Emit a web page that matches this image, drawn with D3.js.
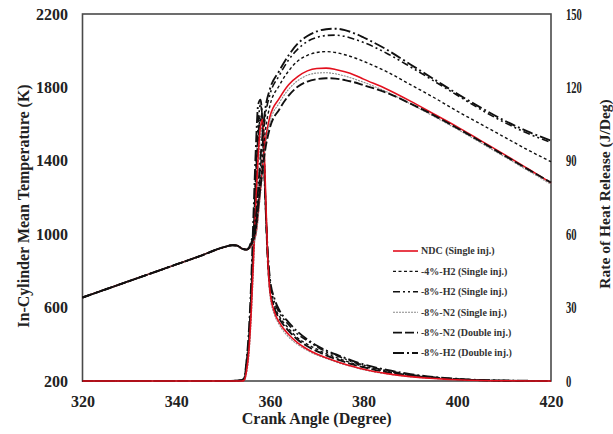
<!DOCTYPE html>
<html>
<head>
<meta charset="utf-8">
<script src="https://cdn.jsdelivr.net/npm/d3@7"></script>
<style>
  html, body { margin: 0; padding: 0; background: #fff; }
  svg { display: block; }
  text { font-family: "Liberation Serif", "Times New Roman", serif; font-weight: bold; }
</style>
</head>
<body>
<svg id="chart" width="613" height="434"></svg>
<script>
// ---------- data ----------
const xTicks = [320, 340, 360, 380, 400, 420];
const tempTicks = [200, 600, 1000, 1400, 1800, 2200];
const hrrTicks = [0, 30, 60, 90, 120, 150];

const seriesNames = [
  "NDC (Single inj.)",
  "-4%-H2 (Single inj.)",
  "-8%-H2 (Single inj.)",
  "-8%-N2 (Single inj.)",
  "-8%-N2 (Double inj.)",
  "-8%-H2 (Double inj.)"
];

// temperature (K) vs crank angle
const tempAngles = [320,325,330,335,340,345,350,352,353,354,355,
  356,357,358,359,360,362,364,366,368,370,372,374,376,378,380,385,390,395,400,405,410,415,420];
const tempCompression = [655,700,745,790,835,880,928,940,938,922,916];
const tempNDC    = [935,1000,1250,1500,1640,1740,1815,1860,1890,1903,1905,1898,1885,1868,1845,1790,1725,1655,1585,1510,1435,1358,1280];
const tempH2_4S  = [940,1020,1300,1560,1700,1810,1890,1945,1975,1990,1995,1990,1978,1962,1942,1885,1815,1745,1670,1600,1530,1460,1395];
const tempH2_8S  = [945,1040,1360,1640,1760,1865,1950,2010,2050,2072,2083,2085,2078,2063,2045,1985,1912,1835,1757,1680,1610,1550,1500];
const tempN2_8S  = [930,990,1220,1470,1610,1715,1790,1838,1866,1878,1880,1874,1862,1846,1828,1775,1710,1642,1572,1498,1423,1348,1272];
const tempN2_8D  = [950,1050,1260,1460,1580,1680,1755,1805,1832,1845,1850,1848,1840,1828,1812,1770,1712,1648,1578,1505,1430,1355,1282];
const tempH2_8D  = [960,1090,1420,1680,1790,1890,1975,2040,2080,2105,2117,2120,2112,2095,2072,2005,1925,1845,1765,1690,1620,1560,1510];

// rate of heat release (J/deg) vs crank angle
const hrrAngles = [320,350,354,354.5,355,355.5,356,356.5,357,357.5,358,358.5,359,359.5,360,361,362,364,366,368,370,372,375,378,380,385,390,395,400,405,410,420];
const hrrNDC   = [0,0,0,0.3,4,12,28,50,72,92,104,107,82,52,37,28,24,19,15.5,13,11,9.5,7.5,5.8,4.8,3,1.8,1,0.5,0.2,0.1,0];
const hrrH2_4S = [0,0,0,0.4,5,14,31,55,78,98,109,106,78,52,39,30.5,26.5,21.5,17.5,15,13,11.2,9,7,6,3.8,2.3,1.3,0.7,0.3,0.1,0];
const hrrH2_8S = [0,0,0,0.5,6,16,35,60,85,105,113,104,76,53,41,32,28,23,19,16.5,14,12,9.8,7.6,6.5,4.2,2.6,1.5,0.8,0.4,0.2,0];
const hrrN2_8S = [0,0,0,0.2,3,10,25,46,68,88,100,104,80,50,35,27,23,18,14.8,12.5,10.6,9.2,7.2,5.6,4.6,2.9,1.7,1,0.5,0.2,0.1,0];
const hrrN2_8D = [0,0,0.3,1,7,17,34,58,82,100,107,102,77,51,38,29.5,25.5,20.5,16.8,14.2,12.2,10.5,8.4,6.6,5.6,3.6,2.2,1.3,0.7,0.3,0.1,0];
const hrrH2_8D = [0,0,0.3,1.2,8,20,40,68,95,113,115,102,75,54,42,33.5,29,24,20,17,14.5,12.5,10.2,8,6.8,4.5,2.8,1.6,0.9,0.4,0.2,0];

// ---------- styles ----------
const styles = [
  { color: "#e3101e", width: 1.6, dash: null },
  { color: "#111",    width: 1.4, dash: "3,2.5" },
  { color: "#111",    width: 1.6, dash: "7,3,2,3,2,3" },
  { color: "#8a8a8a", width: 1.1, dash: "2,1" },
  { color: "#111",    width: 1.9, dash: "9,3" },
  { color: "#111",    width: 1.9, dash: "11,3,2,3" }
];

const tempSeries = [tempNDC, tempH2_4S, tempH2_8S, tempN2_8S, tempN2_8D, tempH2_8D]
  .map(s => tempCompression.concat(s));
const hrrSeries = [hrrNDC, hrrH2_4S, hrrH2_8S, hrrN2_8S, hrrN2_8D, hrrH2_8D];

// ---------- layout ----------
const svg = d3.select("#chart");
const L = 82.5, R = 551, T = 14, B = 381;

const x = d3.scaleLinear().domain([320, 420]).range([L, R]);
const yT = d3.scaleLinear().domain([200, 2200]).range([B, T]);
const yH = d3.scaleLinear().domain([0, 150]).range([B, T]);

// frame
svg.append("rect")
  .attr("x", L).attr("y", T).attr("width", R - L).attr("height", B - T)
  .attr("fill", "none").attr("stroke", "#4a4a4a").attr("stroke-width", 1.6);

// axes
const gx = svg.append("g").attr("transform", `translate(0,${B})`)
  .call(d3.axisBottom(x).tickValues(xTicks).tickSize(0).tickPadding(15).tickFormat(d3.format("d")));
const gl = svg.append("g").attr("transform", `translate(${L},0)`)
  .call(d3.axisLeft(yT).tickValues(tempTicks).tickSize(0).tickPadding(14.5).tickFormat(d3.format("d")));
const gr = svg.append("g").attr("transform", `translate(${R},0)`)
  .call(d3.axisRight(yH).tickValues(hrrTicks).tickSize(0).tickPadding(15).tickFormat(d3.format("d")));

[gx, gl, gr].forEach(g => {
  g.select(".domain").remove();
  g.selectAll("text").attr("font-size", 16).attr("fill", "#222")
    .style("font-family", '"Liberation Serif", "Times New Roman", serif')
    .style("font-weight", "bold");
});
gr.selectAll("text").each(function() {
  const t = d3.select(this);
  t.attr("textLength", t.text().length * 5.3).attr("lengthAdjust", "spacingAndGlyphs");
});

// axis titles
svg.append("text").attr("x", (L + R) / 2).attr("y", 424)
  .attr("text-anchor", "middle").attr("font-size", 16).attr("fill", "#222")
  .text("Crank Angle (Degree)");
svg.append("text").attr("transform", "translate(29,206) rotate(-90)")
  .attr("text-anchor", "middle").attr("font-size", 16).attr("fill", "#222")
  .text("In-Cylinder Mean Temperature (K)");
svg.append("text").attr("transform", "translate(610,194) rotate(-90)")
  .attr("text-anchor", "middle").attr("font-size", 15.5).attr("fill", "#222")
  .text("Rate of Heat Release  (J/Deg)");

// lines
const lineT = d3.line().x((d, i) => x(tempAngles[i])).y(d => yT(d)).curve(d3.curveMonotoneX);
const lineH = d3.line().x((d, i) => x(hrrAngles[i])).y(d => yH(d)).curve(d3.curveMonotoneX);

const plot = svg.append("g");
function drawLine(data, gen, st) {
  plot.append("path").datum(data).attr("d", gen)
    .attr("fill", "none").attr("stroke", st.color).attr("stroke-width", st.width)
    .attr("stroke-dasharray", st.dash).attr("stroke-linejoin", "round");
}
// heat release: black first, red on top
[1, 2, 3, 4, 5].forEach(i => drawLine(hrrSeries[i], lineH, styles[i]));
drawLine(hrrSeries[0], lineH, styles[0]);
// temperature: red first, black on top
drawLine(tempSeries[0], lineT, styles[0]);
[3, 1, 4, 2, 5].forEach(i => drawLine(tempSeries[i], lineT, styles[i]));

// legend
const leg = svg.append("g");
seriesNames.forEach((name, i) => {
  const yy = 251 + i * 20.4;
  leg.append("line").attr("x1", 393).attr("x2", 418).attr("y1", yy).attr("y2", yy)
    .attr("stroke", styles[i].color).attr("stroke-width", styles[i].width)
    .attr("stroke-dasharray", styles[i].dash);
  leg.append("text").attr("x", 421).attr("y", yy).attr("dy", "0.33em")
    .attr("font-size", 10).attr("fill", "#333").text(name);
});
</script>
</body>
</html>
